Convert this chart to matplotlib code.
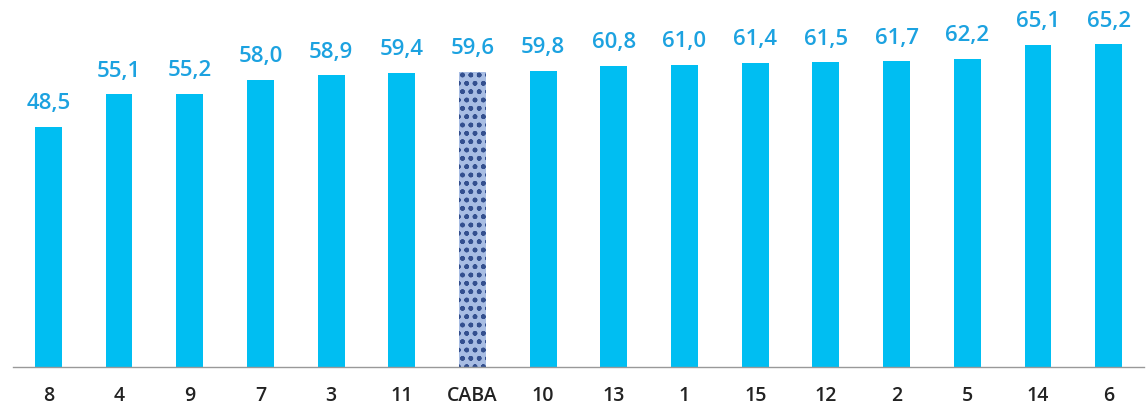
import matplotlib
matplotlib.use('Agg')
import matplotlib.pyplot as plt

# Values
categories = ['8', '4', '9', '7', '3', '11', 'CABA', '10', '13', '1', '15', '12', '2', '5', '14', '6']
values = [48.5, 55.1, 55.2, 58.0, 58.9, 59.4, 59.6, 59.8, 60.8, 61.0, 61.4, 61.5, 61.7, 62.2, 65.1, 65.2]
highlight = 'CABA'

BAR_COLOR = '#00bef2'
LABEL_COLOR = '#1ca2e0'

plt.rcParams['font.family'] = ['Open Sans', 'DejaVu Sans']
plt.rcParams['hatch.linewidth'] = 1.0

fig = plt.figure(figsize=(11.46, 4.07), dpi=100)
ax = fig.add_axes([13 / 1146, 40 / 407, 1131 / 1146, 367 / 407])

x = range(len(categories))
bars = ax.bar(x, values, width=0.38, color=BAR_COLOR, zorder=2)
for b, cat in zip(bars, categories):
    if cat == highlight:
        b.set_facecolor('#a8bde3')
        b.set_edgecolor('#34508f')
        b.set_hatch('oo..')
        b.set_linewidth(0)

for xi, v in zip(x, values):
    ax.annotate(('%.1f' % v).replace('.', ','), (xi, v), xytext=(0, 9), textcoords='offset points',
                ha='center', va='bottom', fontsize=16, fontweight='semibold', color=LABEL_COLOR)

ax.set_xlim(-0.5, len(categories) - 0.5)
ax.set_ylim(0, 74.1)
ax.set_xticks(list(x))
ax.set_xticklabels(categories, fontsize=14, fontweight='semibold', color='#222222')
ax.tick_params(axis='x', length=0, pad=14)
ax.set_yticks([])
for s in ['top', 'right', 'left']:
    ax.spines[s].set_visible(False)
ax.spines['bottom'].set_color('#999999')
ax.spines['bottom'].set_linewidth(1)

fig.savefig('out.png', dpi=100)
